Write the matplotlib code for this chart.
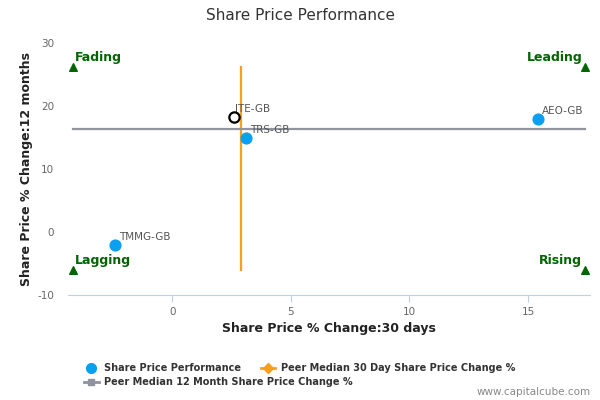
import matplotlib
matplotlib.use('Agg')
import matplotlib.pyplot as plt
from matplotlib.lines import Line2D

plt.rcParams['axes.unicode_minus'] = False

# peer companies (30 day change, 12 month change)
tickers = ['TMMG-GB', 'TRS-GB', 'AEO-GB']
change30d = [-2.4, 3.1, 15.4]
change12m = [-2.1, 14.9, 17.9]

# the company itself
mainTicker = 'ITE-GB'
main30d = 2.6
main12m = 18.2

# peer medians
median30d = 2.9
median12m = 16.4

xMin, xMax = -4.2, 17.4
yMin, yMax = -6.0, 26.2

blue = '#0a9ff0'
orange = '#f8a01c'
grey = '#90949e'
green = '#006400'

fig = plt.figure(figsize=(6, 4), dpi=100)
ax = fig.add_axes([0.113, 0.2625, 0.87, 0.63])

ax.plot([median30d, median30d], [yMin, yMax], color=orange, lw=1.6, zorder=2)
ax.plot([xMin, xMax], [median12m, median12m], color=grey, lw=1.6, zorder=2)

ax.scatter(change30d, change12m, s=60, color=blue, zorder=3)
for t, x, y in zip(tickers, change30d, change12m):
    ax.annotate(t, (x, y), xytext=(3, 4), textcoords='offset points', fontsize=7.5, color='#555555')

ax.scatter([main30d], [main12m], s=55, facecolor='white', edgecolor='black', lw=1.6, zorder=4)
ax.annotate(mainTicker, (main30d, main12m), xytext=(1, 4), textcoords='offset points', fontsize=7.5, color='#555555')

# quadrant markers
ax.scatter([xMin, xMax, xMin, xMax], [yMax, yMax, yMin, yMin], marker='^', s=30, color=green, zorder=3)
ax.annotate('Fading', (xMin, yMax), xytext=(2, 4), textcoords='offset points', fontsize=9, fontweight='bold', color=green)
ax.annotate('Leading', (xMax, yMax), xytext=(-2, 4), textcoords='offset points', fontsize=9, fontweight='bold', color=green, ha='right')
ax.annotate('Lagging', (xMin, yMin), xytext=(2, 4), textcoords='offset points', fontsize=9, fontweight='bold', color=green)
ax.annotate('Rising', (xMax, yMin), xytext=(-2, 4), textcoords='offset points', fontsize=9, fontweight='bold', color=green, ha='right')

ax.set_xlim(-4.4, 17.6)
ax.set_ylim(-10, 30)
ax.set_xticks([0, 5, 10, 15])
ax.set_yticks([-10, 0, 10, 20, 30])
for s in ['top', 'right', 'left']:
    ax.spines[s].set_visible(False)
ax.spines['bottom'].set_color('#c0d0e0')
ax.tick_params(axis='x', colors='#c0d0e0', labelcolor='#666666', labelsize=7.5, length=5)
ax.tick_params(axis='y', length=0, labelcolor='#666666', labelsize=7.5, pad=10)

ax.set_xlabel('Share Price % Change:30 days', fontsize=9, fontweight='bold', color='#222222')
ax.set_ylabel('Share Price % Change:12 months', fontsize=9, fontweight='bold', color='#222222', labelpad=3)

fig.text(0.5, 0.96, 'Share Price Performance', ha='center', va='center', fontsize=11, color='#333333')

legProps = {'size': 7, 'weight': 'bold'}
h1 = [Line2D([], [], marker='o', ls='none', color=blue, markersize=7),
      Line2D([], [], marker='D', color=orange, lw=2, markersize=5)]
l1 = ['Share Price Performance', 'Peer Median 30 Day Share Price Change %']
leg1 = fig.legend(h1, l1, loc='center left', bbox_to_anchor=(0.14, 1 - 368 / 400), ncol=2,
                  frameon=False, handlelength=1.5, handletextpad=0.6, columnspacing=2.0,
                  prop=legProps, borderaxespad=0, borderpad=0)
h2 = [Line2D([], [], marker='s', color=grey, lw=2, markersize=5)]
l2 = ['Peer Median 12 Month Share Price Change %']
leg2 = fig.legend(h2, l2, loc='center left', bbox_to_anchor=(0.14, 1 - 382 / 400),
                  frameon=False, handlelength=1.5, handletextpad=0.6,
                  prop=legProps, borderaxespad=0, borderpad=0)
for leg in (leg1, leg2):
    for t in leg.get_texts():
        t.set_color('#333333')

fig.text(0.985, 0.008, 'www.capitalcube.com', ha='right', va='bottom', fontsize=7.5, color='#888888')

fig.savefig('out.png', dpi=100)
